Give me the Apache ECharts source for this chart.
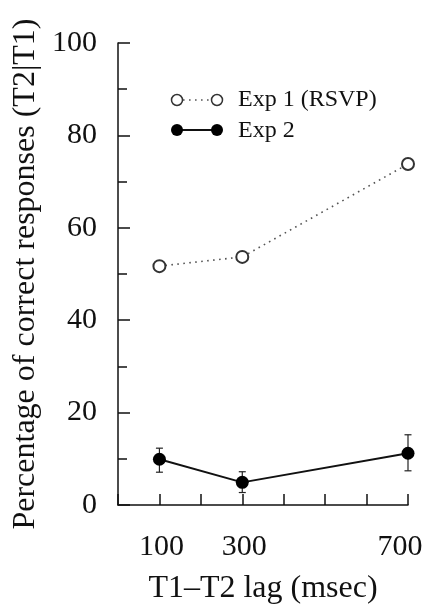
<!DOCTYPE html>
<html>
<head>
<meta charset="utf-8">
<script src="https://cdn.jsdelivr.net/npm/echarts@6/dist/echarts.min.js"></script>
<style>
html,body{margin:0;padding:0;background:#fff;}
#chart{width:427px;height:608px;}
</style>
</head>
<body>
<div id="chart"></div>
<script>
const lags = [100, 300, 700];
const exp1 = [51.7, 53.7, 73.8];
const exp2 = [9.9, 4.9, 11.2];
const exp2Upper = [12.3, 7.2, 15.2];
const exp2Lower = [7.1, 2.7, 7.4];
const xTickLabels = ['100', '300', '700'];
const seriesNames = ['Exp 1 (RSVP)', 'Exp 2'];
const xTitle = 'T1\u2013T2 lag (msec)';
const yTitle = 'Percentage of correct responses (T2|T1)';

const FONT = '"Liberation Serif", "DejaVu Serif", serif';
const chart = echarts.init(document.getElementById('chart'));

const exp1Data = lags.map((x, i) => [x, exp1[i]]);
const exp2Data = lags.map((x, i) => [x, exp2[i]]);
const errData = lags.map((x, i) => [x, exp2Lower[i], exp2Upper[i]]);

const option = {
  animation: false,
  backgroundColor: '#fff',
  grid: { left: 118, right: 19, top: 43, bottom: 103, containLabel: false, outerBoundsMode: 'none' },
  xAxis: {
    type: 'value', min: 0, max: 700, interval: 100,
    offset: 19,
    name: xTitle, nameLocation: 'middle', nameGap: 49,
    nameTextStyle: { fontFamily: FONT, fontSize: 32, color: '#111' },
    axisLine: { show: true, lineStyle: { color: '#111', width: 1.5 } },
    axisTick: { show: true, inside: true, length: 11, lineStyle: { color: '#111', width: 1.5 } },
    axisLabel: {
      margin: 8, fontFamily: FONT, fontSize: 30, color: '#111',
      formatter: v => {
        const s = String(v);
        if (!xTickLabels.includes(s)) return '';
        return s === xTickLabels[xTickLabels.length - 1] ? '{last|' + s + '}' : '{n|' + s + '}';
      },
      rich: {
        n: { fontFamily: FONT, fontSize: 30, color: '#111', padding: [0, 0, 0, 4] },
        last: { fontFamily: FONT, fontSize: 30, color: '#111', padding: [0, 16, 0, 0] }
      }
    },
    splitLine: { show: false }
  },
  yAxis: {
    type: 'value', min: 0, max: 100, interval: 20,
    offset: 10,
    name: yTitle, nameLocation: 'middle', nameGap: 62,
    nameTextStyle: { fontFamily: FONT, fontSize: 32, color: '#111' },
    axisLine: { show: true, lineStyle: { color: '#111', width: 1.5 } },
    axisTick: { show: true, inside: true, length: 12, lineStyle: { color: '#111', width: 1.5 } },
    minorTick: { show: true, splitNumber: 2, length: 9, lineStyle: { color: '#111', width: 1.5 } },
    axisLabel: { margin: 11, fontFamily: FONT, fontSize: 30, color: '#111' },
    splitLine: { show: false }
  },
  series: [
    {
      name: seriesNames[0], type: 'line', data: exp1Data,
      symbol: 'emptyCircle', symbolSize: 12,
      itemStyle: { color: '#333', borderWidth: 1.5 },
      lineStyle: { color: '#555', width: 1.6, type: [1.6, 4.4] },
      z: 3
    },
    {
      name: 'errors', type: 'custom', data: errData,
      renderItem: function (params, api) {
        const x = api.value(0);
        const lo = api.coord([x, api.value(1)]);
        const hi = api.coord([x, api.value(2)]);
        const hw = 3.5;
        const st = { stroke: '#222', lineWidth: 1.2 };
        return {
          type: 'group',
          children: [
            { type: 'line', shape: { x1: lo[0], y1: lo[1], x2: hi[0], y2: hi[1] }, style: st },
            { type: 'line', shape: { x1: hi[0] - hw, y1: hi[1], x2: hi[0] + hw, y2: hi[1] }, style: st },
            { type: 'line', shape: { x1: lo[0] - hw, y1: lo[1], x2: lo[0] + hw, y2: lo[1] }, style: st }
          ]
        };
      },
      z: 2
    },
    {
      name: seriesNames[1], type: 'line', data: exp2Data,
      symbol: 'circle', symbolSize: 13,
      itemStyle: { color: '#000' },
      lineStyle: { color: '#111', width: 2 },
      z: 4
    }
  ],
  graphic: [
    { type: 'line', shape: { x1: 183, y1: 100, x2: 211, y2: 100 }, style: { stroke: '#555', lineWidth: 1.6, lineDash: [1.6, 4.4] } },
    { type: 'circle', shape: { cx: 177, cy: 100, r: 5.5 }, style: { fill: '#fff', stroke: '#333', lineWidth: 1.5 } },
    { type: 'circle', shape: { cx: 217, cy: 100, r: 5.5 }, style: { fill: '#fff', stroke: '#333', lineWidth: 1.5 } },
    { type: 'text', x: 238, y: 100, style: { text: seriesNames[0], font: '24px ' + FONT, fill: '#111', verticalAlign: 'middle' } },
    { type: 'line', shape: { x1: 177, y1: 130, x2: 217, y2: 130 }, style: { stroke: '#111', lineWidth: 2 } },
    { type: 'circle', shape: { cx: 177, cy: 130, r: 6 }, style: { fill: '#000' } },
    { type: 'circle', shape: { cx: 217, cy: 130, r: 6 }, style: { fill: '#000' } },
    { type: 'text', x: 238, y: 131, style: { text: seriesNames[1], font: '24px ' + FONT, fill: '#111', verticalAlign: 'middle' } }
  ]
};
chart.setOption(option);
</script>
</body>
</html>
